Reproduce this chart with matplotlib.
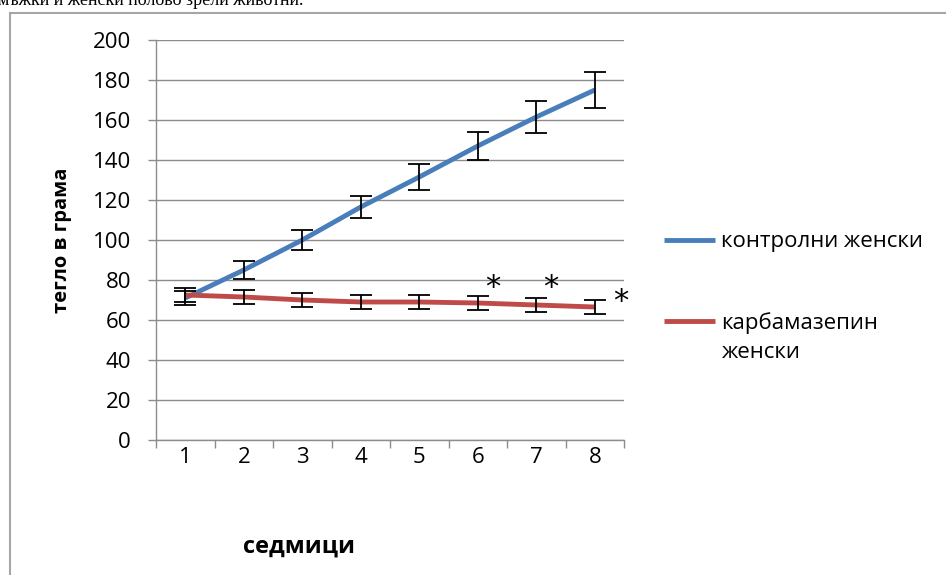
import matplotlib.pyplot as plt
import numpy as np
from matplotlib.lines import Line2D
from matplotlib.patches import Rectangle

plt.rcParams['font.family'] = ['Open Sans', 'DejaVu Sans']

weeks = [1, 2, 3, 4, 5, 6, 7, 8]
control = [71, 85, 100, 116.5, 131.5, 147, 161.5, 175]
control_err = [3.5, 4.5, 5, 5.5, 6.5, 7, 8, 9]
carba = [72.5, 71.5, 70, 69, 69, 68.5, 67.5, 66.5]
carba_err = [3.5, 3.5, 3.5, 3.5, 3.5, 3.5, 3.5, 3.5]
star_x = [6.25, 7.25, 8.45]
star_y = [76, 76, 69]
y_ticks = [0, 20, 40, 60, 80, 100, 120, 140, 160, 180, 200]

blue = '#4A7EBB'
red = '#BE4B48'
grid_c = '#8C8C8C'

fig = plt.figure(figsize=(9.46, 5.75), dpi=100)
ax = fig.add_axes([156 / 946, 1 - 440 / 575, (624 - 156) / 946, 400 / 575])

# text above the chart, cut off by the page edge
fig.text(-0.002, 1 - 5 / 575, 'мъжки и женски полово зрели животни.',
         family='Liberation Serif', fontsize=13, va='baseline', ha='left')

# outer chart frame
fig.add_artist(Rectangle((10 / 946, -0.01), 1.0, 1 - 13 / 575 + 0.01,
                         transform=fig.transFigure, fill=False,
                         edgecolor='#A6A6A6', linewidth=1.5))

l1, = ax.plot(weeks, control, color=blue, lw=3.5, solid_capstyle='butt', zorder=3)
l2, = ax.plot(weeks, carba, color=red, lw=3.5, solid_capstyle='butt', zorder=3)
ax.errorbar(weeks, control, yerr=control_err, fmt='none', ecolor='black',
            elinewidth=1.3, capsize=8, capthick=1.3, zorder=4)
ax.errorbar(weeks, carba, yerr=carba_err, fmt='none', ecolor='black',
            elinewidth=1.3, capsize=8, capthick=1.3, zorder=4)

for sx, sy in zip(star_x, star_y):
    ax.text(sx, sy, '*', fontsize=22, ha='center', va='center',
            family='DejaVu Sans', clip_on=False)

ax.set_xlim(0.5, 8.5)
ax.set_ylim(0, 200)
ax.set_yticks(y_ticks)
ax.set_xticks(np.arange(0.5, 9, 1))
ax.set_xticklabels([])
ax.set_xticks(weeks, minor=True)
ax.set_xticklabels([str(w) for w in weeks], minor=True)
ax.tick_params(axis='x', which='major', length=6, color=grid_c, width=1)
ax.tick_params(axis='x', which='minor', length=0, pad=5, labelsize=16)
ax.tick_params(axis='y', length=6, color=grid_c, width=1, pad=12, labelsize=16)

ax.grid(axis='y', color=grid_c, lw=1)
ax.set_axisbelow(True)
for s in ['top', 'right']:
    ax.spines[s].set_visible(False)
for s in ['left', 'bottom']:
    ax.spines[s].set_color(grid_c)
    ax.spines[s].set_linewidth(1)

ax.set_ylabel('тегло в грама', fontsize=14.5, fontweight='bold')
ax.yaxis.set_label_coords((72 - 156) / 468, 0.5)
ax.set_xlabel('седмици', fontsize=17, fontweight='bold')
ax.xaxis.set_label_coords((299 - 156) / 468, (440 - 535) / 400)

leg1 = fig.legend([l1], ['контролни женски'], loc='center left',
                  bbox_to_anchor=(664 / 946, 1 - 242 / 575), frameon=False,
                  fontsize=16, handlelength=2.3, handletextpad=0.25,
                  borderpad=0, borderaxespad=0)
blank = Line2D([], [], color='none')
leg2 = fig.legend([l2, blank], ['карбамазепин', 'женски'], loc='upper left',
                  bbox_to_anchor=(664 / 946, 1 - 312 / 575), frameon=False,
                  fontsize=16, handlelength=2.3, handletextpad=0.25,
                  labelspacing=0.37, borderpad=0, borderaxespad=0)

fig.savefig('out.png', dpi=100)
